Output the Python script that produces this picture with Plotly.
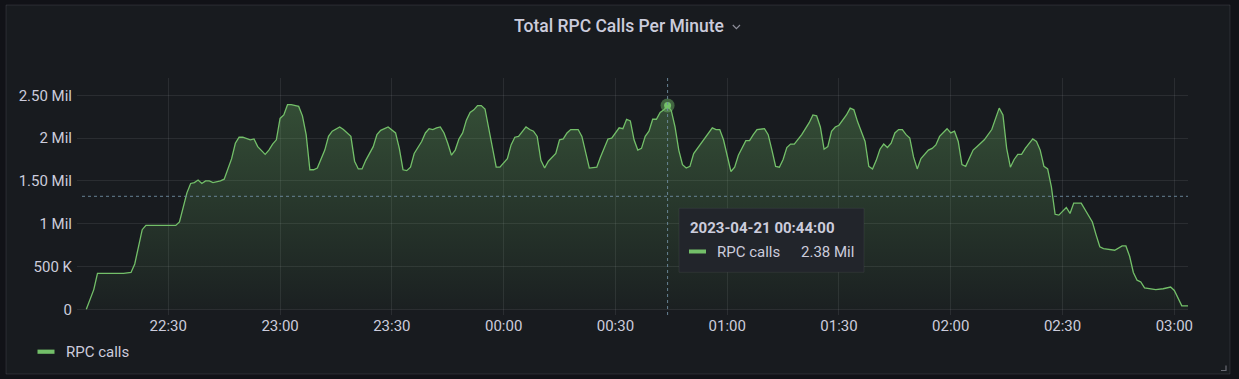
import plotly.graph_objects as go
from datetime import datetime

# ---------------- data ----------------
title_text = "Total RPC Calls Per Minute"
series_name = "RPC calls"

times = [
    "22:08", "22:10", "22:11", "22:18", "22:20", "22:21", "22:23", "22:24", "22:32", "22:33",
    "22:35", "22:36", "22:37", "22:38", "22:39", "22:40", "22:41", "22:42", "22:44", "22:45",
    "22:47", "22:48", "22:49", "22:50", "22:52", "22:53", "22:54", "22:56", "22:57", "22:58",
    "22:59", "23:00", "23:01", "23:02", "23:03", "23:05", "23:06", "23:07", "23:08", "23:09",
    "23:10", "23:12", "23:13", "23:14", "23:16", "23:17", "23:19", "23:20", "23:21", "23:22",
    "23:23", "23:25", "23:26", "23:27", "23:29", "23:30", "23:31", "23:32", "23:33", "23:34",
    "23:35", "23:36", "23:38", "23:39", "23:40", "23:41", "23:42", "23:43", "23:44", "23:45",
    "23:46", "23:47", "23:48", "23:49", "23:50", "23:51", "23:52", "23:53", "23:54", "23:55",
    "23:56", "23:57", "23:58", "23:59", "00:01", "00:02", "00:03", "00:04", "00:05", "00:06",
    "00:07", "00:08", "00:09", "00:10", "00:11", "00:12", "00:14", "00:15", "00:16", "00:17",
    "00:18", "00:20", "00:21", "00:22", "00:23", "00:25", "00:26", "00:28", "00:29", "00:31",
    "00:32", "00:33", "00:34", "00:35", "00:36", "00:37", "00:38", "00:39", "00:40", "00:41",
    "00:42", "00:43", "00:44", "00:45", "00:46", "00:47", "00:48", "00:49", "00:50", "00:51",
    "00:53", "00:55", "00:56", "00:57", "00:58", "00:59", "01:00", "01:01", "01:02", "01:03",
    "01:05", "01:06", "01:07", "01:08", "01:10", "01:11", "01:12", "01:13", "01:14", "01:15",
    "01:16", "01:17", "01:18", "01:20", "01:22", "01:23", "01:24", "01:25", "01:26", "01:27",
    "01:28", "01:29", "01:30", "01:31", "01:32", "01:33", "01:34", "01:35", "01:37", "01:38",
    "01:39", "01:40", "01:41", "01:42", "01:43", "01:44", "01:45", "01:46", "01:47", "01:48",
    "01:49", "01:50", "01:51", "01:52", "01:54", "01:55", "01:56", "01:57", "01:59", "02:00",
    "02:01", "02:02", "02:03", "02:04", "02:06", "02:07", "02:09", "02:11", "02:12", "02:13",
    "02:14", "02:15", "02:16", "02:17", "02:18", "02:19", "02:20", "02:22", "02:23", "02:24",
    "02:25", "02:26", "02:27", "02:28", "02:29", "02:31", "02:32", "02:33", "02:35", "02:37",
    "02:38", "02:39", "02:40", "02:41", "02:43", "02:44", "02:46", "02:47", "02:48", "02:49",
    "02:50", "02:51", "02:52", "02:55", "02:57", "02:59", "03:00", "03:01", "03:02", "03:04",
]

rpc_calls_mil = [
    0.00, 0.23, 0.42, 0.42, 0.43, 0.53, 0.93, 0.98, 0.98, 1.02,
    1.36, 1.47, 1.48, 1.51, 1.47, 1.50, 1.50, 1.48, 1.50, 1.52,
    1.76, 1.94, 2.01, 2.01, 1.98, 1.99, 1.90, 1.81, 1.86, 1.93,
    1.98, 2.23, 2.27, 2.39, 2.39, 2.37, 2.26, 2.04, 1.63, 1.63,
    1.65, 1.86, 2.02, 2.08, 2.13, 2.10, 2.02, 1.73, 1.64, 1.64,
    1.74, 1.90, 2.04, 2.09, 2.13, 2.09, 2.06, 1.88, 1.63, 1.62,
    1.66, 1.82, 1.96, 2.06, 2.11, 2.10, 2.12, 2.13, 2.06, 1.94,
    1.80, 1.86, 1.99, 2.06, 2.21, 2.30, 2.33, 2.38, 2.38, 2.34,
    2.10, 1.86, 1.66, 1.66, 1.76, 1.92, 2.01, 2.02, 2.08, 2.13,
    2.10, 2.08, 2.02, 1.74, 1.65, 1.73, 1.82, 1.98, 1.99, 2.06,
    2.10, 2.10, 2.02, 1.85, 1.65, 1.66, 1.78, 1.99, 2.00, 2.12,
    2.11, 2.22, 2.20, 1.98, 1.86, 1.88, 2.02, 2.08, 2.22, 2.22,
    2.30, 2.33, 2.38, 2.32, 2.13, 1.86, 1.69, 1.65, 1.67, 1.82,
    1.94, 2.05, 2.12, 2.10, 2.10, 1.98, 1.80, 1.61, 1.66, 1.80,
    1.97, 1.97, 2.04, 2.10, 2.11, 2.04, 1.86, 1.67, 1.66, 1.75,
    1.89, 1.93, 1.93, 2.04, 2.18, 2.27, 2.26, 2.13, 1.87, 1.90,
    2.08, 2.13, 2.15, 2.21, 2.27, 2.35, 2.33, 2.19, 1.96, 1.67,
    1.64, 1.74, 1.87, 1.93, 1.89, 1.94, 2.06, 2.10, 2.10, 2.04,
    2.00, 1.78, 1.64, 1.76, 1.86, 1.88, 1.92, 2.02, 2.11, 2.06,
    2.08, 1.96, 1.69, 1.67, 1.86, 1.90, 1.98, 2.10, 2.23, 2.35,
    2.27, 1.88, 1.66, 1.75, 1.81, 1.81, 1.88, 1.99, 1.96, 1.86,
    1.67, 1.64, 1.43, 1.11, 1.10, 1.19, 1.12, 1.24, 1.24, 1.10,
    1.02, 0.87, 0.73, 0.71, 0.70, 0.69, 0.74, 0.74, 0.62, 0.43,
    0.34, 0.32, 0.25, 0.23, 0.24, 0.26, 0.22, 0.12, 0.04, 0.04,
]

y_tick_vals = [0, 500000, 1000000, 1500000, 2000000, 2500000]
y_tick_text = ["0", "500 K", "1 Mil", "1.50 Mil", "2 Mil", "2.50 Mil"]

hover_time = "00:44"
hover_title = "2023-04-21 00:44:00"
hover_value_text = "2.38 Mil"

# ---------------- helpers ----------------
def to_dt(hm):
    h, m = map(int, hm.split(":"))
    day = 20 if h >= 12 else 21
    return datetime(2023, 4, day, h, m)

xs = [to_dt(t) for t in times]
ys = [v * 1e6 for v in rpc_calls_mil]
hi = times.index(hover_time)

W, H = 1239, 379
L, R, T, B = 77, 51, 78, 64
PW, PH = W - L - R, H - T - B

def px(x):
    return (x - L) / PW

def py(y):
    return (H - B - y) / PH

GREEN = "#73bf69"
TXT = "rgb(204,204,220)"
GRID = "rgba(204,204,220,0.10)"
CROSS = "rgba(110,140,160,0.9)"
FONT = "Roboto"

fig = go.Figure()
fig.add_trace(go.Scatter(
    x=xs, y=ys, mode="lines", name=series_name,
    line=dict(color=GREEN, width=1.3),
    fill="tozeroy",
    fillgradient=dict(type="vertical",
                      colorscale=[[0, "rgba(115,191,105,0.03)"], [1, "rgba(115,191,105,0.34)"]],
                      start=0, stop=2.7e6),
    hoverinfo="skip", showlegend=False,
))
fig.add_trace(go.Scatter(
    x=[xs[hi]], y=[ys[hi]], mode="markers",
    marker=dict(size=14, color="rgba(115,191,105,0.45)", line=dict(width=0)),
    hoverinfo="skip", showlegend=False,
))
fig.add_trace(go.Scatter(
    x=[xs[hi]], y=[ys[hi]], mode="markers",
    marker=dict(size=7, color=GREEN, line=dict(width=0)),
    hoverinfo="skip", showlegend=False,
))

shapes = [
    # panel
    dict(type="rect", xref="paper", yref="paper", x0=px(6), x1=px(1230), y0=py(374), y1=py(5),
         fillcolor="#181b1f", line=dict(color="rgba(204,204,220,0.12)", width=1), layer="below"),
    # crosshair
    dict(type="line", xref="x", yref="paper", x0=xs[hi], x1=xs[hi], y0=0, y1=1,
         line=dict(color=CROSS, width=1, dash="3px,3px")),
    dict(type="line", xref="paper", yref="paper", x0=px(82), x1=1, y0=py(196.3), y1=py(196.3),
         line=dict(color=CROSS, width=1, dash="3px,3px")),
    # tooltip box
    dict(type="rect", xref="paper", yref="paper", x0=px(679), x1=px(864), y0=py(272.3), y1=py(208.3),
         fillcolor="#22252b", line=dict(color="rgba(204,204,220,0.08)", width=1)),
    dict(type="rect", xref="paper", yref="paper", x0=px(689), x1=px(706), y0=py(253.5), y1=py(249.5),
         fillcolor=GREEN, line=dict(width=0)),
    # legend swatch
    dict(type="rect", xref="paper", yref="paper", x0=px(37.5), x1=px(54.5), y0=py(353.8), y1=py(349.6),
         fillcolor=GREEN, line=dict(width=0)),
    # title chevron
    dict(type="path", xref="paper", yref="paper",
         path=f"M {px(732.8)},{py(25.0)} L {px(736.4)},{py(28.6)} L {px(740.0)},{py(25.0)}",
         line=dict(color="rgba(204,204,220,0.65)", width=1.2)),
    # resize handle
    dict(type="path", xref="paper", yref="paper",
         path=f"M {px(1221)},{py(370.5)} L {px(1226)},{py(370.5)} L {px(1226)},{py(365.5)}",
         line=dict(color="rgba(204,204,220,0.45)", width=1.2)),
]

annotations = [
    dict(text=title_text, x=px(618.5), y=py(25.7), xref="paper", yref="paper",
         xanchor="center", yanchor="middle", showarrow=False,
         font=dict(family=FONT, size=17.5, color=TXT, weight=500)),
    dict(text=hover_title, x=px(688), y=py(227.7), xref="paper", yref="paper",
         xanchor="left", yanchor="middle", showarrow=False,
         font=dict(family=FONT, size=15, color=TXT, weight=700)),
    dict(text=series_name, x=px(715), y=py(251.7), xref="paper", yref="paper",
         xanchor="left", yanchor="middle", showarrow=False,
         font=dict(family=FONT, size=15, color=TXT)),
    dict(text=hover_value_text, x=px(856), y=py(251.7), xref="paper", yref="paper",
         xanchor="right", yanchor="middle", showarrow=False,
         font=dict(family=FONT, size=15, color=TXT)),
    dict(text=series_name, x=px(63.5), y=py(352), xref="paper", yref="paper",
         xanchor="left", yanchor="middle", showarrow=False,
         font=dict(family=FONT, size=15, color=TXT)),
]

fig.update_layout(
    width=W, height=H, autosize=False,
    margin=dict(l=L, r=R, t=T, b=B, pad=0),
    paper_bgcolor="#111217", plot_bgcolor="rgba(0,0,0,0)",
    font=dict(family=FONT, color=TXT, size=15),
    showlegend=False,
    shapes=shapes, annotations=annotations,
    xaxis=dict(type="date",
               range=["2023-04-20 22:05:30", "2023-04-21 03:03:40"],
               tick0="2023-04-20 22:30", dtick=1800000, tickformat="%H:%M",
               showgrid=True, gridcolor=GRID, gridwidth=1, zeroline=False, showline=False,
               ticks="", tickfont=dict(family=FONT, size=15, color=TXT), fixedrange=True),
    yaxis=dict(range=[-66600, 2702000], tickvals=y_tick_vals, ticktext=y_tick_text,
               showgrid=True, gridcolor=GRID, gridwidth=1, zeroline=False, showline=False,
               ticks="", ticklabelstandoff=4,
               tickfont=dict(family=FONT, size=15, color=TXT), fixedrange=True),
)

fig.write_html("out.html", config={"displayModeBar": False},
               post_script="document.body.style.margin='0';document.body.style.background='#111217';")
